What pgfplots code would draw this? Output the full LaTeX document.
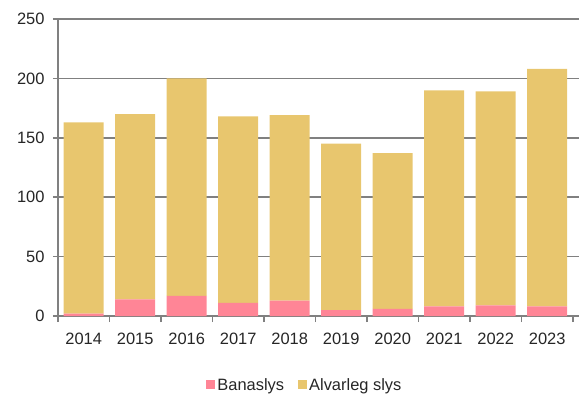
\documentclass[border=0pt]{standalone}
\usepackage{fontspec}
\setmainfont{Liberation Sans}
\usepackage{pgfplots}
\pgfplotsset{compat=1.18}
\definecolor{banpink}{RGB}{255,133,150}
\definecolor{alvtan}{RGB}{232,198,110}
\definecolor{gridgray}{RGB}{128,128,128}
\begin{document}
\begin{tikzpicture}
\useasboundingbox (-58bp,-85bp) rectangle (521bp,316bp);
\begin{axis}[
  at={(0,0)}, anchor=south west,
  scale only axis,
  width=521bp, height=297bp,
  ybar stacked,
  bar width=40bp,
  xmin=-0.5, xmax=9.617,
  ymin=0, ymax=250,
  ytick={0,50,...,250},
  xtick={0,...,9},
  xticklabels={2014,2015,2016,2017,2018,2019,2020,2021,2022,2023},
  minor xtick={-0.5,0.5,...,9.5},
  major x tick style={draw=none},
  minor x tick style={draw=gridgray, line width=1.6bp},
  y tick style={draw=gridgray, line width=1.6bp},
  tick align=outside,
  major tick length=5bp, minor tick length=6bp,
  ymajorgrids,
  grid style={draw=gridgray, line width=1.6bp},
  axis x line*=bottom, axis y line*=left,
  axis line style={draw=gridgray, line width=1.6bp},
  tick label style={font=\fontsize{16.5}{19}\selectfont, text=black!85},
  yticklabel style={xshift=-5bp},
  xticklabel style={yshift=-8bp},
  /pgf/number format/assume math mode=true,
  legend style={draw=none, fill=none, at={(0.474,-0.232)}, anchor=center,
    font=\fontsize{16.5}{19}\selectfont, text=black!85,
    /tikz/every even column/.append style={column sep=12bp}},
  legend columns=2,
  legend image code/.code={\fill[#1] (0bp,-4.5bp) rectangle (9bp,4.5bp);},
]
\addplot[fill=banpink, draw=none] coordinates {(0,2) (1,14) (2,17) (3,11) (4,13) (5,5) (6,6) (7,8) (8,9) (9,8)};
\addplot[fill=alvtan, draw=none] coordinates {(0,161) (1,156) (2,183) (3,157) (4,156) (5,140) (6,131) (7,182) (8,180) (9,200)};
\legend{Banaslys, Alvarleg slys}
\end{axis}
\end{tikzpicture}
\end{document}
